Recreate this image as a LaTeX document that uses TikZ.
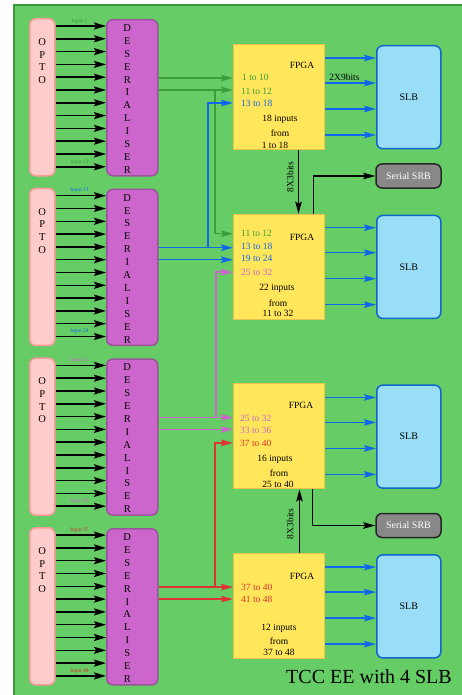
\documentclass[tikz,border=0pt]{standalone}
\usepackage{fontspec}
\setmainfont{Liberation Serif}
\usetikzlibrary{arrows.meta,calc}
\definecolor{bg}{HTML}{66CC66}
\definecolor{bgborder}{HTML}{3A9A3A}
\definecolor{optofill}{HTML}{FFCCCC}
\definecolor{optodraw}{HTML}{FF9999}
\definecolor{desfill}{HTML}{CC66CC}
\definecolor{desdraw}{HTML}{995599}
\definecolor{fpgafill}{HTML}{FFE65A}
\definecolor{fpgadraw}{HTML}{E6C34D}
\definecolor{slbfill}{HTML}{99DDF7}
\definecolor{slbdraw}{HTML}{1166CC}
\definecolor{srbfill}{HTML}{888888}
\definecolor{cgreen}{HTML}{3A9E3A}
\definecolor{cblue}{HTML}{1166EE}
\definecolor{cviolet}{HTML}{CC66CC}
\definecolor{cred}{HTML}{DD3333}
\begin{document}
\begin{tikzpicture}[x=1pt,y=-1pt,
  opto/.style={draw=optodraw,fill=optofill,line width=1.5pt,rounded corners=6pt,minimum width=25pt,minimum height=157pt,inner sep=0pt,anchor=north west},
  deser/.style={draw=desdraw,fill=desfill,line width=1.5pt,rounded corners=6pt,minimum width=51pt,minimum height=156pt,inner sep=0pt,anchor=north west},
  fpga/.style={draw=fpgadraw,fill=fpgafill,line width=1pt,minimum width=91pt,minimum height=105pt,inner sep=0pt,anchor=north west},
  slb/.style={draw=slbdraw,fill=slbfill,line width=1.5pt,rounded corners=6pt,minimum width=64pt,minimum height=103pt,inner sep=0pt,anchor=north west,font=\fontsize{10}{12}\selectfont},
  srb/.style={draw=black!85,fill=srbfill,line width=1.5pt,rounded corners=6pt,minimum width=65pt,minimum height=24pt,inner sep=0pt,text=white,font=\fontsize{10}{12}\selectfont},
  inarrow/.style={black,line width=1.5pt,-{Stealth[length=12pt,width=7pt,inset=2pt]}},
  carrow/.style={line width=1.5pt,-{Stealth[length=12pt,width=6.5pt,inset=2pt]}},
  sarrow/.style={cblue,line width=1.5pt,-{Stealth[length=12pt,width=6.5pt,inset=2pt]}},
  barrow/.style={black,line width=1.5pt,-{Stealth[length=12pt,width=6.5pt,inset=2pt]}},
  lbl/.style={font=\fontsize{9.5}{11}\selectfont,inner sep=0pt},
  inl/.style={lbl,anchor=west},
  tiny/.style={font=\fontsize{5.5}{6}\selectfont,inner sep=0pt},
  letters/.style={align=center,inner sep=0pt}]
\useasboundingbox (0,0) rectangle (462,695);
\fill[bg] (14,5) rectangle (470,700);
\draw[bgborder,line width=1.2pt] (14,700) -- (14,5) -- (470,5);
\coordinate (xb) at (208,0);
\coordinate (xg) at (215,0);
\coordinate (xv) at (216,0);
\foreach \k/\c/\la/\lb in {0/cgreen/1/12,1/cblue/13/24,2/cviolet/25/36,3/cred/37/48}{
  \pgfmathsetmacro\T{18+169.7*\k}
  \node[opto] (o\k) at (29,\T) {};
  \node[deser] (d\k) at (106,\T+1) {};
  \node[fpga] (f\k) at (233,\T+26) {};
  \node[slb] (s\k) at (376,\T+27) {SLB};
  \node[letters,font=\fontsize{10.5}{12.7}\selectfont] (ot\k) at ($(o\k.north)+(0,43)$) {O\\P\\T\\O};
  \node[letters,font=\fontsize{10.5}{12.9}\selectfont] (dt\k) at ($(d\k.north)+(-5,80)$) {D\\E\\S\\E\\R\\I\\A\\L\\I\\S\\E\\R};
  \foreach \i in {0,...,11}{
    \draw[inarrow] ($(o\k.north east)+(0,{8+12.8*\i})$) coordinate (p) -- (d\k.west |- p);
  }
  \node[tiny,text=\c] (ia\k) at ($(o\k.north east)+(24,3)$) {Input \la};
  \node[tiny,text=\c] (ib\k) at ($(o\k.north east)+(24,144)$) {Input \lb};
  \coordinate (ra\k) at ($(d\k.north east)+(0,59)$);
  \coordinate (rb\k) at ($(d\k.north east)+(0,71)$);
  \draw[carrow,\c] (ra\k) -- (f\k.west |- ra\k);
  \draw[carrow,\c] (rb\k) -- (f\k.west |- rb\k);
  \foreach \o in {14,39,65,91}{
    \draw[sarrow] ($(f\k.north east)+(0,\o)$) coordinate (q) -- (s\k.west |- q);
  }
}
% cross connections
\draw[carrow,cgreen] (rb0 -| xg) |- ($(f1.north west)+(0,20)$);
\draw[carrow,cblue] (ra1 -| xb) |- ($(f0.north west)+(0,59)$);
\draw[carrow,cviolet] (ra2 -| xv) |- ($(f1.north west)+(0,58.5)$);
\draw[carrow,cred] (ra3 -| xg) |- ($(f2.north west)+(0,59.5)$);
% FPGA 1 texts
\node[lbl] (fa0) at (302,65) {FPGA};
\node[inl,text=cgreen] at (242,77) {1 to 10};
\node[inl,text=cgreen] at (241,91) {11 to 12};
\node[inl,text=cblue] at (241,103) {13 to 18};
\node[lbl] at (280,119) {18 inputs};
\node[lbl] at (280,133) {from};
\node[lbl] at (275,145) {1 to 18};
% FPGA 2 texts
\node[inl,text=cgreen] at (241,233) {11 to 12};
\node[lbl] (fa1) at (302,237) {FPGA};
\node[inl,text=cblue] at (241,246) {13 to 18};
\node[inl,text=cblue] at (241,258) {19 to 24};
\node[inl,text=cviolet] at (241,272) {25 to 32};
\node[lbl] at (277,288) {22 inputs};
\node[lbl] at (278,303) {from};
\node[lbl] at (278,313) {11 to 32};
% FPGA 3 texts
\node[lbl] (fa2) at (301,405) {FPGA};
\node[inl,text=cviolet] at (240,418) {25 to 32};
\node[inl,text=cviolet] at (240,430) {33 to 36};
\node[inl,text=cred] at (240,443) {37 to 40};
\node[lbl] at (275,459) {16 inputs};
\node[lbl] at (279,473) {from};
\node[lbl] at (278,484) {25 to 40};
% FPGA 4 texts
\node[lbl] (fa3) at (302,576) {FPGA};
\node[inl,text=cred] at (241,587) {37 to 40};
\node[inl,text=cred] at (241,599) {41 to 48};
\node[lbl] at (279,628) {12 inputs};
\node[lbl] at (279,641) {from};
\node[lbl] at (279,652) {37 to 48};
% bus labels
\node[lbl] (b29) at (344.5,77) {2X9bits};
\node[lbl,rotate=90] (b83a) at (290,177) {8X3bits};
\node[lbl,rotate=90] (b83b) at (290,524) {8X3bits};
% serial SRB
\node[srb] (srb0) at (408.5,176) {Serial SRB};
\node[srb] (srb1) at (408.5,525.5) {Serial SRB};
\draw[barrow] ([xshift=19.5pt]f0.south) -- ([xshift=19.5pt]f1.north);
\draw[barrow] ([xshift=34.5pt]f1.north) |- (srb0.west);
\draw[barrow] ([xshift=20.5pt]f3.north) -- ([xshift=20.5pt]f2.south);
\draw[barrow] ([xshift=33.5pt]f2.south) |- (srb1.west);
% title
\node[font=\fontsize{20}{24}\selectfont,inner sep=0pt] (title) at (369,677) {TCC EE with 4 SLB};
\end{tikzpicture}
\end{document}
